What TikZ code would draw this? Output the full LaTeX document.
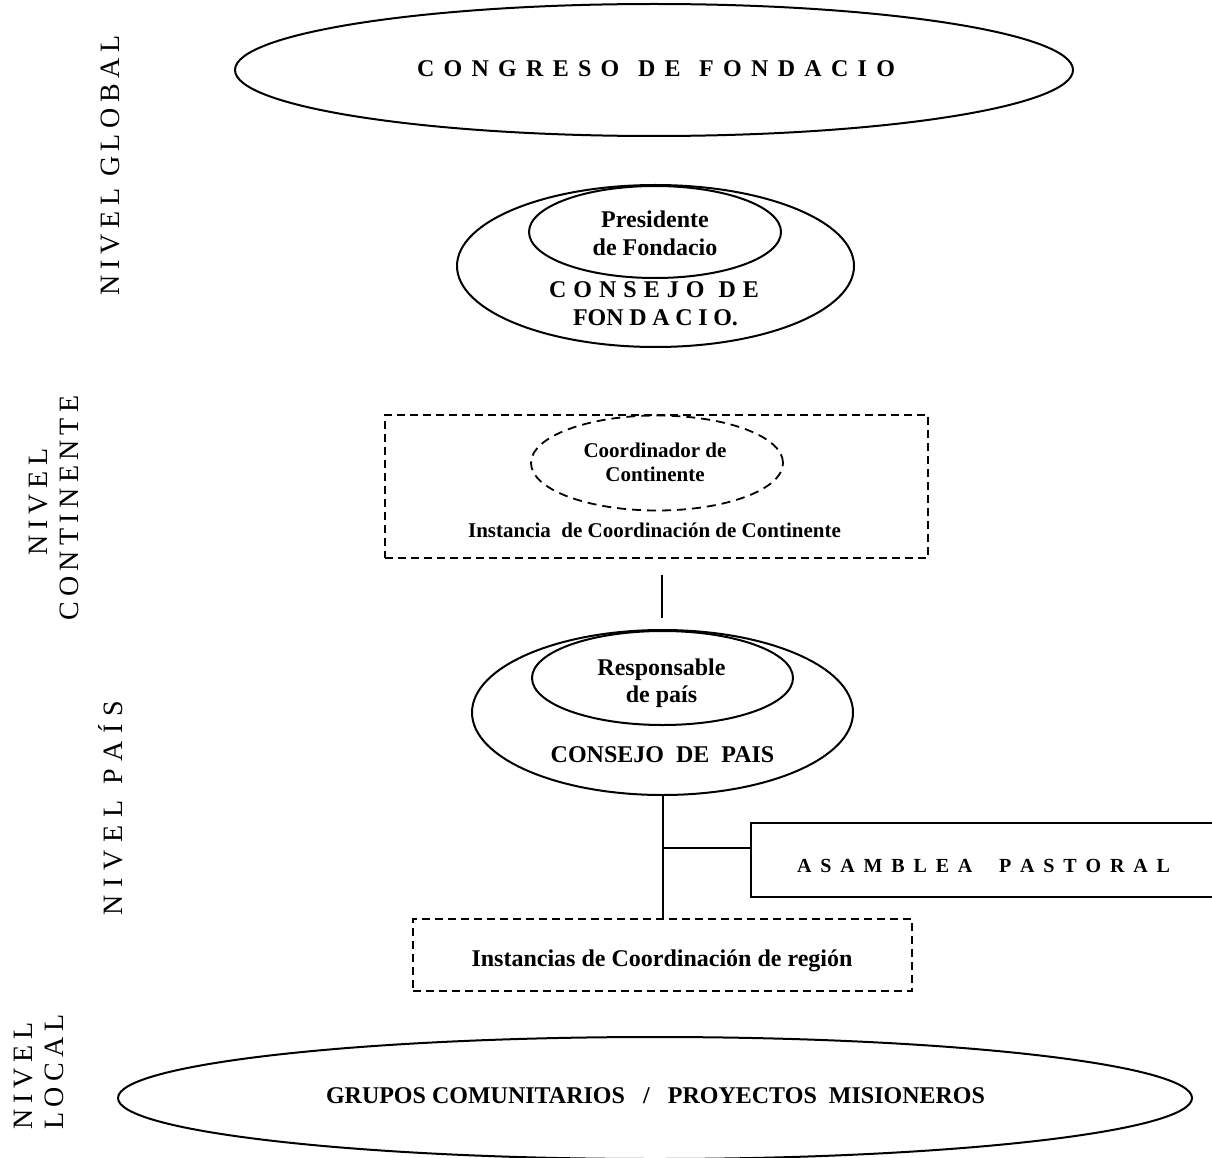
\documentclass[tikz,border=0pt]{standalone}
\usepackage{fontspec}
\setmainfont{Liberation Serif}
\usetikzlibrary{shapes.geometric}
\newcommand{\fitw}[2]{\makebox[#1pt][s]{#2}}
\begin{document}
\begin{tikzpicture}[x=1pt,y=-1pt,
  ell/.style={draw, ellipse, line width=2pt, inner sep=0pt},
  dell/.style={draw, ellipse, line width=1.8pt, dash pattern=on 9pt off 6pt, inner sep=0pt},
  box/.style={draw, rectangle, line width=2pt, inner sep=0pt},
  dbox/.style={draw, rectangle, line width=1.8pt, dash pattern=on 8pt off 5pt, inner sep=0pt},
  conn/.style={line width=2pt},
  t24/.style={font=\fontsize{24}{28}\selectfont\bfseries, inner sep=0pt, anchor=base},
  t21/.style={font=\fontsize{21}{24}\selectfont\bfseries, inner sep=0pt, anchor=base},
  t20/.style={font=\fontsize{20}{24}\selectfont\bfseries, inner sep=0pt, anchor=base},
  side/.style={font=\fontsize{28}{32}\selectfont, rotate=90, inner sep=0pt, anchor=base}]
\useasboundingbox (0,0) rectangle (1212,1158);
\clip (0,0) rectangle (1212,1158);

% global level
\node[ell, minimum width=838pt, minimum height=132pt] (congreso) at (654,70) {};
\node[t24] (congresoT) at (656,77) {\fitw{478}{C O N G R E S O\ \ D E\ \ F O N D A C I O}};

\node[ell, minimum width=397pt, minimum height=162pt] (consejoF) at (655.5,266) {};
\node[ell, minimum width=252pt, minimum height=92pt] (presidente) at (655,232) {};
\node[t24] (presT1) at (655,228) {Presidente};
\node[t24] (presT2) at (655,255) {de Fondacio};
\node[t24] (consT1) at (654,298) {\fitw{210}{C O N S E J O\ \ D E}};
\node[t24] (consT2) at (655.5,325) {\fitw{165}{FON D A C I O.}};

% continent level
\node[dbox, minimum width=543pt, minimum height=143pt] (contBox) at (656.5,486.5) {};
\node[dell, minimum width=252pt, minimum height=95pt] (coord) at (657,463) {};
\node[t21] (coordT1) at (655,457) {Coordinador de};
\node[t21] (coordT2) at (655,481) {Continente};
\node[t21] (instT) at (654.5,537) {Instancia\ \ de Coordinación de Continente};

\coordinate (lnA) at (662,575);
\coordinate (lnB) at (662,618);
\draw[conn] (lnA) -- (lnB);

% country level
\node[ell, minimum width=381pt, minimum height=165pt] (consejoP) at (662.5,712.5) {};
\node[ell, minimum width=261pt, minimum height=94pt] (resp) at (662.5,678) {};
\node[t24] (respT1) at (661.5,675) {Responsable};
\node[t24] (respT2) at (661.5,702) {de país};
\node[t24] (consPT) at (662.5,762) {CONSEJO\ \ DE\ \ PAIS};

\node[box, minimum width=470pt, minimum height=74pt] (asamblea) at (986,860) {};
\node[t20] (asamT) at (983.5,872) {\fitw{373}{A S A M B L E A\ \ \ P A S T O R A L}};

\node[dbox, minimum width=499pt, minimum height=72pt] (region) at (662.5,955) {};
\node[t24] (regionT) at (662,966) {Instancias de Coordinación de región};

\draw[conn] (consejoP.south) -- (region.north);
\coordinate (junc) at (662.5,848);
\draw[conn] (junc) -- (asamblea.west |- junc);

% local level
\node[ell, minimum width=1074pt, minimum height=122pt] (grupos) at (655,1098) {};
\node[t24] (gruposT) at (655.5,1103) {\fitw{659}{GRUPOS COMUNITARIOS\ \ \ /\ \ \ PROYECTOS\ \ MISIONEROS}};

% side labels
\node[side] (nGlobal) at (119,165) {\fitw{260}{N I V E L\ \ G L O B A L}};
\node[side] (nCont1) at (47,502) {\fitw{107}{N I V E L}};
\node[side] (nCont2) at (78,508) {\fitw{225}{C O N T I N E N T E}};
\node[side] (nPais) at (122,808) {\fitw{215}{N I V E L\ \ P A Í S}};
\node[side] (nLocal1) at (32,1076) {\fitw{107}{N I V E L}};
\node[side] (nLocal2) at (63,1072) {\fitw{115}{L O C A L}};
\end{tikzpicture}
\end{document}
